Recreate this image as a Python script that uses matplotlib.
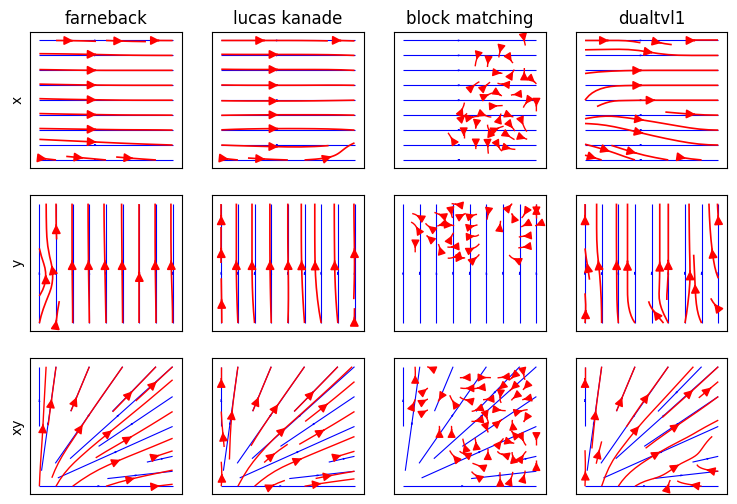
import numpy as np
import matplotlib
matplotlib.use("Agg")
from matplotlib import pyplot as plt

methods = ["farneback", "lucas kanade", "block matching", "dualtvl1"]
motions = ["x", "y", "xy"]

# grids (rows of every field run from y=0 at the bottom to y=8 at the top)
coarse = [0, 2, 4, 6, 8]
fine = [0, 1, 2, 3, 4, 5, 6, 7, 8]

# ground truth flow, u and v on the coarse grid
gt_x_u = [[1, 1, 1, 1, 1], [1, 1, 1, 1, 1], [1, 1, 1, 1, 1], [1, 1, 1, 1, 1], [1, 1, 1, 1, 1]]
gt_x_v = [[0, 0, 0, 0, 0], [0, 0, 0, 0, 0], [0, 0, 0, 0, 0], [0, 0, 0, 0, 0], [0, 0, 0, 0, 0]]
gt_y_u = [[0, 0, 0, 0, 0], [0, 0, 0, 0, 0], [0, 0, 0, 0, 0], [0, 0, 0, 0, 0], [0, 0, 0, 0, 0]]
gt_y_v = [[1, 1, 1, 1, 1], [1, 1, 1, 1, 1], [1, 1, 1, 1, 1], [1, 1, 1, 1, 1], [1, 1, 1, 1, 1]]
gt_xy_u = [[0, 2, 4, 6, 8], [0, 2, 4, 6, 8], [0, 2, 4, 6, 8], [0, 2, 4, 6, 8], [0, 2, 4, 6, 8]]
gt_xy_v = [[0, 0, 0, 0, 0], [2, 2, 2, 2, 2], [4, 4, 4, 4, 4], [6, 6, 6, 6, 6], [8, 8, 8, 8, 8]]

# estimated flow direction in degrees (None = no flow found)
N = None
farneback_x = [[-8, -6, -6, -5, -3], [-1, -1, -1, 0, -1], [-2, -1, -1, 0, 0],
               [-1, -1, 0, 0, 0], [0, -1, -3, -1, 0]]
farneback_y = [[80, 90, 91, 90, 90], [60, 91, 91, 90, 92], [110, 90, 91, 90, 91],
               [92, 90, 91, 90, 90], [90, 90, 90, 90, 90]]
farneback_xy = [[88, 40, 20, 10, 6], [88, 50, 30, 22, 18], [90, 65, 46, 36, 30],
                [90, 72, 56, 46, 40], [90, 76, 63, 53, 46]]

lucas_x = [[-8, -4, -2, 8, 165], [3, 1, 0, -1, -4], [-1, 0, 0, 1, 1],
           [-1, 0, 0, 0, -3], [0, 0, 0, -1, -2]]
lucas_y = [[90, 95, 88, 100, 90], [91, 92, 90, 96, 88], [90, 90, 91, 91, 90],
           [90, 90, 90, 90, 91], [90, 90, 90, 90, 90]]
lucas_xy = [[85, 45, 15, 8, 5], [100, 55, 30, 22, 16], [95, 65, 44, 35, 30],
            [90, 72, 56, 45, 40], [90, 76, 63, 53, 46]]

block_x = [[N, N, N, N, N, N, 60, 0, 0],
           [N, N, 120, N, N, 270, 290, 10, N],
           [N, N, N, N, 270, 120, 0, 270, 0],
           [N, N, N, 90, 30, 330, 90, 300, N],
           [N, N, N, N, 90, 20, 330, 200, 270],
           [N, N, N, N, N, 45, 180, 90, 300],
           [N, N, N, N, N, 270, 0, 90, 90],
           [N, N, N, N, N, 250, 260, 280, 90],
           [N, N, N, N, N, 270, N, 280, N]]
block_y = [[N, N, N, N, N, N, N, N, N],
           [N, N, N, N, N, N, N, N, N],
           [N, N, N, N, N, N, N, N, N],
           [N, N, N, N, N, N, N, N, N],
           [N, N, N, N, N, N, N, N, N],
           [N, 270, 90, 200, 10, 90, 90, 190, N],
           [180, 90, 250, 60, 330, 90, 90, 200, 110],
           [190, 120, 150, 300, 60, 260, 80, 220, 270],
           [180, 200, 160, 170, 10, 270, 100, 0, 90]]
block_xy = [[N, N, N, N, N, N, 90, 0, 0],
            [N, N, N, N, 120, 200, 80, 90, 90],
            [N, N, N, 130, 200, 90, 180, 60, 90],
            [N, N, N, 90, 100, 80, 45, 300, 270],
            [N, N, N, N, 160, 270, 90, 200, 270],
            [N, N, N, 180, 180, 300, 0, 20, 0],
            [90, 60, 250, 100, 180, 170, 270, 180, 270],
            [90, 80, 270, 180, 200, 0, 180, 270, 60],
            [90, 100, 270, 180, 45, 0, 200, 270, 300]]

dual_x = [[-15, -25, -12, -10, 0], [-15, -15, -15, -12, 0], [60, 2, 0, 0, 0],
          [5, 2, 0, 0, 0], [0, 0, -20, 0, 0]]
dual_y = [[85, 95, 150, 80, 150], [95, 90, 90, 80, 120], [100, 90, 90, 90, 100],
          [90, 90, 90, 90, 95], [90, 90, 90, 90, 92]]
dual_xy = [[88, 60, 10, 170, 175], [92, 55, 35, 20, 175], [92, 65, 45, 35, 28],
           [90, 72, 55, 45, 40], [90, 76, 63, 53, 46]]

ground_truth = [(gt_x_u, gt_x_v), (gt_y_u, gt_y_v), (gt_xy_u, gt_xy_v)]
estimates = [[farneback_x, lucas_x, block_x, dual_x],
             [farneback_y, lucas_y, block_y, dual_y],
             [farneback_xy, lucas_xy, block_xy, dual_xy]]


def angle_field(angles):
    a = np.array([[np.nan if v is None else v for v in row] for row in angles], dtype=float)
    on = ~np.isnan(a)
    rad = np.deg2rad(np.nan_to_num(a))
    return np.where(on, np.cos(rad), 0.0), np.where(on, np.sin(rad), 0.0)


fig, axes = plt.subplots(3, 4, figsize=(7.37, 5.04), dpi=100)
fig.subplots_adjust(left=0.041, right=0.987, top=0.936, bottom=0.019, wspace=0.2, hspace=0.2)

for r, motion in enumerate(motions):
    gu, gv = ground_truth[r]
    red_lw = 1.0 if motion == "xy" else 1.2
    for c, method in enumerate(methods):
        ax = axes[r, c]
        ax.streamplot(np.array(coarse, float), np.array(coarse, float),
                      np.array(gu, float), np.array(gv, float),
                      color="blue", density=0.31, linewidth=0.8, arrowsize=0.15)
        est = estimates[r][c]
        eu, ev = angle_field(est)
        if len(est) == 9:
            # block matching: many short noisy pieces
            ax.streamplot(np.array(fine, float), np.array(fine, float), eu, ev,
                          color="red", density=0.42, linewidth=1.0, arrowsize=1.2,
                          maxlength=0.11, minlength=0.05)
        else:
            ax.streamplot(np.array(coarse, float), np.array(coarse, float), eu, ev,
                          color="red", density=0.31, linewidth=red_lw, arrowsize=1.3)
        ax.set_xlim(-0.55, 8.55)
        ax.set_ylim(-0.55, 8.55)
        ax.set_xticks([])
        ax.set_yticks([])
        if r == 0:
            ax.set_title(method)
        if c == 0:
            ax.set_ylabel(motion)

fig.savefig("out.png", dpi=100)
